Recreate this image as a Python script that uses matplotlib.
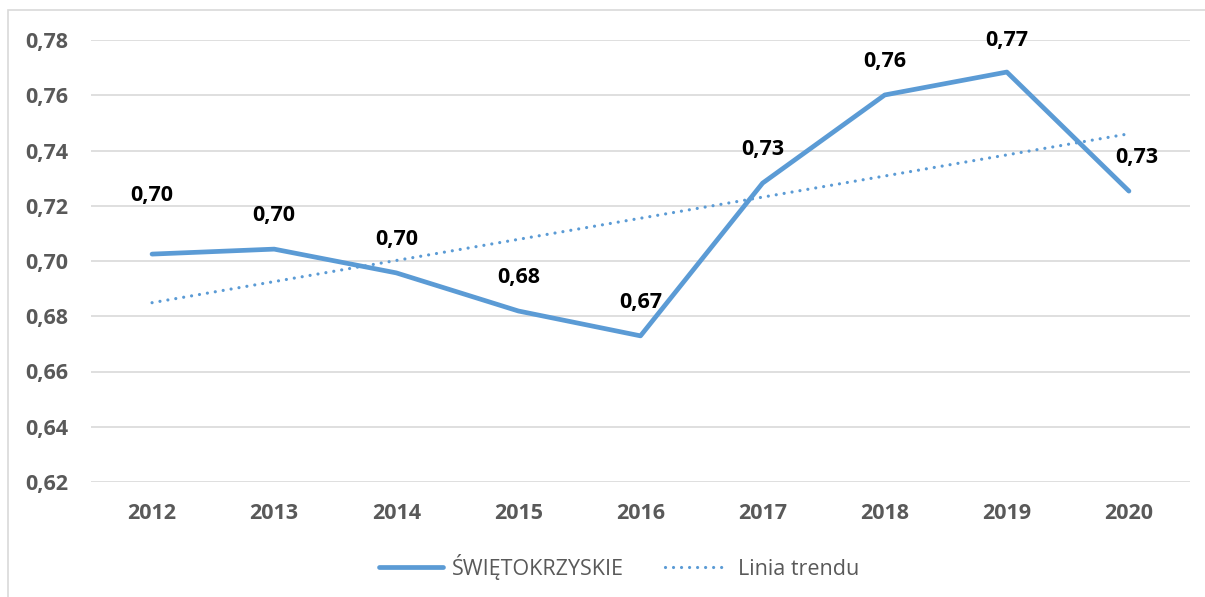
import numpy as np
import matplotlib.pyplot as plt
from matplotlib.patches import Rectangle

# data
years = ['2012', '2013', '2014', '2015', '2016', '2017', '2018', '2019', '2020']
values = [0.7025, 0.7043, 0.6957, 0.6819, 0.6729, 0.7282, 0.7601, 0.7684, 0.7253]
y_ticks = [0.62, 0.64, 0.66, 0.68, 0.70, 0.72, 0.74, 0.76, 0.78]

blue = '#5b9bd5'
grey_txt = '#595959'
plt.rcParams['font.family'] = ['Open Sans', 'DejaVu Sans']
fs = 15.5

W, H = 1205, 597
fig = plt.figure(figsize=(W / 100, H / 100), dpi=100)
ax = fig.add_axes([91 / W, 1 - 482 / H, (1190 - 91) / W, (482 - 40) / H])

x = np.arange(len(years))
ax.plot(x, values, color=blue, lw=3.4, solid_joinstyle='round',
        solid_capstyle='round', label='ŚWIĘTOKRZYSKIE', zorder=3)

# linear trend line
coef = np.polyfit(x, values, 1)
ax.plot(x, np.polyval(coef, x), color=blue, lw=2.3, ls=(0, (0.01, 2.5)),
        dash_capstyle='round', label='Linia trendu', zorder=2)

# label offsets in points (first and last were moved in the original)
offsets = [(0, 42), (0, 24), (0, 24), (0, 24), (0, 24), (0, 24), (0, 24), (0, 23), (6, 24)]
for xi, v, off in zip(x, values, offsets):
    ax.annotate(f'{v:.2f}'.replace('.', ','), (xi, v), xytext=off,
                textcoords='offset points', ha='center', va='center',
                fontsize=fs, fontweight='bold', color='black')

ax.set_xlim(-0.5, len(years) - 0.5)
ax.set_ylim(0.62, 0.78)
ax.set_yticks(y_ticks)
ax.set_yticklabels([f'{t:.2f}'.replace('.', ',') for t in y_ticks])
ax.set_xticks(x)
ax.set_xticklabels(years)
ax.tick_params(length=0, labelsize=fs, labelcolor=grey_txt)
ax.tick_params(axis='y', pad=16.5)
ax.tick_params(axis='x', pad=15)
for lab in ax.get_xticklabels() + ax.get_yticklabels():
    lab.set_fontweight('bold')
ax.grid(axis='y', color='#d9d9d9', lw=1.2)
ax.set_axisbelow(True)
for s in ax.spines.values():
    s.set_visible(False)

leg = fig.legend(loc='center', bbox_to_anchor=(619 / W, 1 - 567 / H), ncol=2,
                 frameon=False, fontsize=fs, handlelength=3.0,
                 handletextpad=0.4, columnspacing=1.9)
for t in leg.get_texts():
    t.set_color(grey_txt)

# chart frame (only top and left edge visible in the crop)
fig.patches.append(Rectangle((8 / W, -0.1), 1.2, (H - 10) / H + 0.1,
                             transform=fig.transFigure, fill=False,
                             edgecolor='#d9d9d9', lw=1.2))

fig.savefig('out.png', dpi=100)
